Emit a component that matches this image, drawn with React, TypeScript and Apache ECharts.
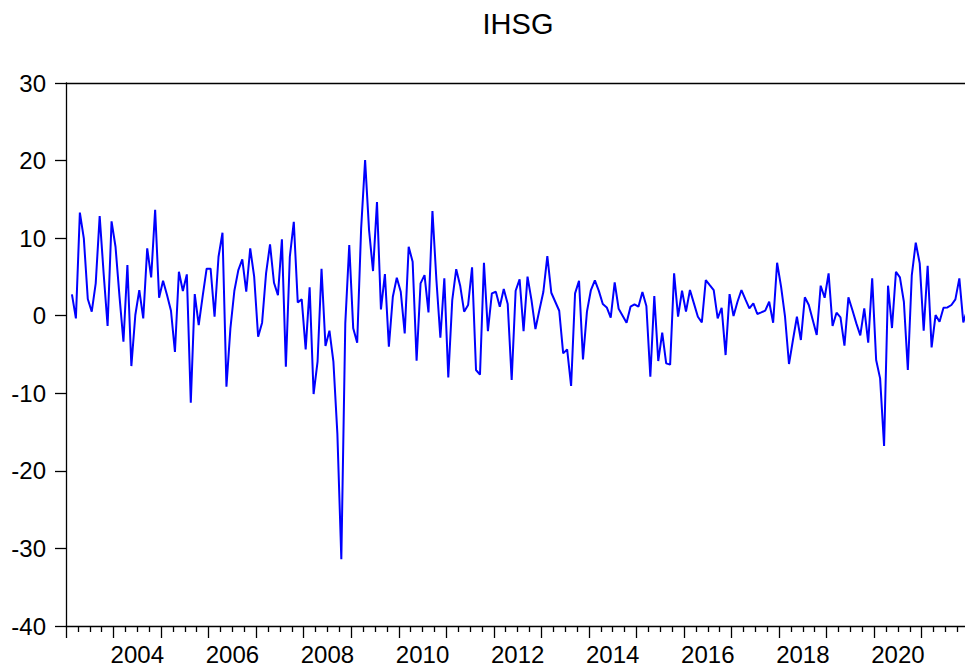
import React, { useEffect, useRef } from "react";
import * as echarts from "echarts";

const START_YEAR = 2003;
const FIRST_MONTH_INDEX = 1; // 0 = Jan 2003
const r2003 = [2.75, -0.34, 13.3, 9.97, 2.15, 0.52, 4.17, 12.84, 5.46, -1.33, 12.16];
const r2004 = [8.89, 2.5, -3.35, 6.53, -6.49, 0.09, 3.31, -0.34, 8.68, 4.94, 13.66, 2.32];
const r2005 = [4.51, 2.66, 0.64, -4.68, 5.67, 3.18, 5.33, -11.2, 2.79, -1.2, 2.53, 6.06];
const r2006 = [6.06, -0.13, 7.6, 10.7, -9.15, -1.63, 3.22, 5.88, 7.26, 3.09, 8.68, 5.03];
const r2007 = [-2.71, -0.9, 5.46, 9.19, 4.25, 2.66, 9.84, -6.57, 7.6, 12.1, 1.72, 2.1];
const r2008 = [-4.34, 3.65, -10.1, -5.93, 6.06, -3.91, -1.93, -5.93, -15.2, -31.4, -0.99, 9.1];
const r2009 = [-1.63, -3.48, 11.25, 20.06, 11.04, 5.76, 14.65, 0.82, 5.37, -3.99, 2.45, 4.9];
const r2010 = [3.09, -2.28, 8.89, 6.96, -5.8, 4.17, 5.24, 0.43, 13.5, 4.6, -2.84, 4.81];
const r2011 = [-7.95, 2.02, 6.0, 3.87, 0.52, 1.37, 6.23, -7.0, -7.6, 6.83, -1.98, 2.88];
const r2012 = [3.09, 1.16, 3.44, 1.5, -8.29, 3.22, 4.68, -1.98, 5.03, 2.02, -1.72, 0.73];
const r2013 = [3.09, 7.69, 2.96, 1.8, 0.64, -4.85, -4.34, -9.06, 2.88, 4.51, -5.63, 0.52];
const r2014 = [3.31, 4.55, 3.2, 1.5, 1.07, -0.26, 4.3, 0.9, 0.0, -0.9, 1.16, 1.46];
const r2015 = [1.16, 3.05, 1.25, -7.86, 2.53, -5.84, -2.19, -6.14, -6.31, 5.46, -0.13, 3.22];
const r2016 = [0.52, 3.31, 1.59, -0.13, -0.86, 4.6, 3.95, 3.31, -0.34, 1.03, -5.07, 2.79];
const r2017 = [-0.04, 1.8, 3.31, 2.1, 0.95, 1.59, 0.22, 0.43, 0.65, 1.8, -0.9, 6.83];
const r2018 = [3.74, -0.13, -6.23, -3.13, -0.13, -3.13, 2.37, 1.38, -0.56, -2.49, 3.87, 2.32];
const r2019 = [5.46, -1.33, 0.39, -0.21, -3.87, 2.37, 0.73, -0.99, -2.53, 0.95, -3.48, 4.81];
const r2020 = [-5.71, -8.08, -16.8, 3.87, -1.59, 5.67, 4.94, 1.8, -7.0, 5.24, 9.41, 6.74];
const r2021 = [-1.93, 6.44, -4.08, 0.09, -0.77, 1.03, 1.07, 1.38, 2.1, 4.81, -0.86, 0.8];

const yearly = [r2003, r2004, r2005, r2006, r2007, r2008, r2009, r2010, r2011, r2012,
  r2013, r2014, r2015, r2016, r2017, r2018, r2019, r2020, r2021];

const TITLE = "IHSG";
const Y_MIN = -40;
const Y_MAX = 30;
const Y_STEP = 10;
const X_MAX_MONTHS = 228; // end of 2021
const LAST_LABEL_YEAR = 2020;
const FONT = "'Liberation Sans', Arial, Helvetica, sans-serif";

// The original picture is cropped on the right: the chart canvas is a bit wider than the view.
const VIEW_W = 965;
const VIEW_H = 669;
const CHART_W = 975;

export default function App() {
  const ref = useRef<HTMLDivElement>(null);

  useEffect(() => {
    if (!ref.current) return;
    const chart = echarts.init(ref.current, null, { renderer: "svg" });

    const values = ([] as number[]).concat(...yearly);
    const data = values.map((v, k) => [FIRST_MONTH_INDEX + k + 0.5, v]);

    const gridLeft = 66;
    const monthPx = 3.9616;
    const gridRight = CHART_W - gridLeft - X_MAX_MONTHS * monthPx;

    const axisColor = "#000";
    chart.setOption({
      animation: false,
      backgroundColor: "#fff",
      grid: { left: gridLeft, top: 83, right: gridRight, bottom: 43, containLabel: false },
      xAxis: [
        {
          type: "value",
          min: 0,
          max: X_MAX_MONTHS,
          interval: 12,
          axisLine: { show: true, onZero: false, lineStyle: { color: axisColor, width: 1.3 } },
          axisTick: { show: true, inside: false, length: 12, lineStyle: { color: axisColor, width: 1.3 } },
          minorTick: { show: true, splitNumber: 4, length: 6, lineStyle: { color: axisColor, width: 1.3 } },
          splitLine: { show: false },
          minorSplitLine: { show: false },
          axisLabel: {
            show: true,
            color: "#000",
            fontSize: 24,
            fontFamily: FONT,
            margin: 16,
            padding: [0, 0, 0, 12 * monthPx],
            showMinLabel: true,
            showMaxLabel: true,
            formatter: (v: number) => {
              const yr = START_YEAR + Math.round(v / 12);
              return yr % 2 === 0 && yr <= LAST_LABEL_YEAR ? String(yr) : "";
            },
          },
        },
        {
          type: "value",
          position: "top",
          min: 0,
          max: X_MAX_MONTHS,
          axisLine: { show: true, onZero: false, lineStyle: { color: axisColor, width: 1.3 } },
          axisTick: { show: false },
          axisLabel: { show: false },
          splitLine: { show: false },
        },
      ],
      yAxis: {
        type: "value",
        min: Y_MIN,
        max: Y_MAX,
        interval: Y_STEP,
        axisLine: { show: true, onZero: false, lineStyle: { color: axisColor, width: 1.3 } },
        axisTick: { show: true, inside: false, length: 11, lineStyle: { color: axisColor, width: 1.3 } },
        splitLine: { show: false },
        axisLabel: { color: "#000", fontSize: 24, fontFamily: FONT, margin: 20 },
      },
      series: [
        {
          type: "line",
          data,
          xAxisIndex: 0,
          yAxisIndex: 0,
          symbol: "none",
          showSymbol: false,
          clip: true,
          lineStyle: { color: "#0000ff", width: 2 },
        },
      ],
      graphic: [
        {
          type: "text",
          x: 518,
          y: 24,
          style: {
            text: TITLE,
            fontSize: 29,
            fontFamily: FONT,
            fill: "#000",
            textAlign: "center",
            textVerticalAlign: "middle",
          },
        },
      ],
    });

    return () => chart.dispose();
  }, []);

  return (
    <div
      style={{
        position: "fixed",
        left: 0,
        top: 0,
        width: VIEW_W,
        height: VIEW_H,
        overflow: "hidden",
        background: "#fff",
      }}
    >
      <div ref={ref} style={{ width: CHART_W, height: VIEW_H }} />
    </div>
  );
}
